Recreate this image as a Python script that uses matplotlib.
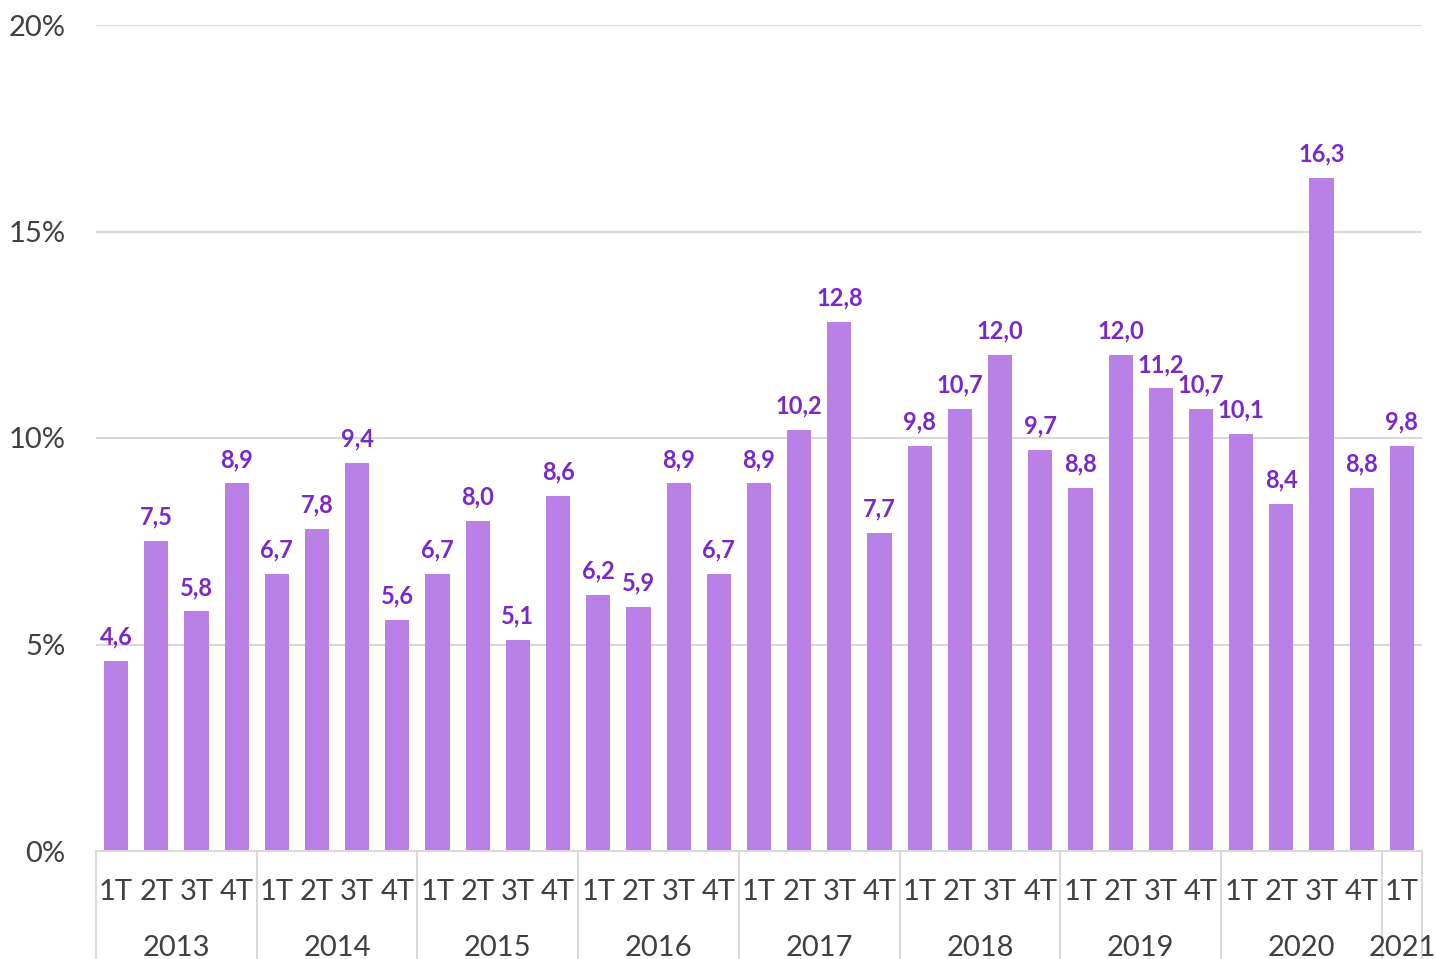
import matplotlib
matplotlib.use("Agg")
import matplotlib.pyplot as plt
from matplotlib.transforms import blended_transform_factory

plt.rcParams['font.family'] = ['Lato', 'DejaVu Sans']

quarters = ["1T", "2T", "3T", "4T"] * 8 + ["1T"]
years = ["2013", "2014", "2015", "2016", "2017", "2018", "2019", "2020", "2021"]
year_sizes = [4, 4, 4, 4, 4, 4, 4, 4, 1]
values = [4.6, 7.5, 5.8, 8.9, 6.7, 7.8, 9.4, 5.6, 6.7, 8.0, 5.1, 8.6,
          6.2, 5.9, 8.9, 6.7, 8.9, 10.2, 12.8, 7.7, 9.8, 10.7, 12.0, 9.7,
          8.8, 12.0, 11.2, 10.7, 10.1, 8.4, 16.3, 8.8, 9.8]
yticks = [0, 5, 10, 15, 20]

W, H = 1436, 959
fig = plt.figure(figsize=(W / 100, H / 100), dpi=100)
ax = fig.add_axes([96 / W, (H - 851) / H, (1422 - 96) / W, (851 - 25) / H])

bar_color = "#B980E6"
lab_color = "#7B28C9"
txt_color = "#404040"
grid_color = "#D9D9D9"

x = list(range(len(values)))
ax.bar(x, values, width=0.6, color=bar_color, zorder=2)
for xi, v in zip(x, values):
    ax.annotate(f"{v:.1f}".replace(".", ","), (xi, v), xytext=(0, 9),
                textcoords="offset points", ha="center", va="bottom",
                fontsize=17, fontweight="bold", color=lab_color, zorder=3)

ax.set_xlim(-0.5, len(values) - 0.5)
ax.set_ylim(0, 20)
ax.set_yticks(yticks)
ax.set_yticklabels([f"{t}%" for t in yticks])
ax.yaxis.grid(True, color=grid_color, lw=1.5, zorder=0)
ax.tick_params(axis="y", length=0, pad=22, labelsize=21, labelcolor=txt_color)
ax.set_xticks(x)
ax.set_xticklabels(quarters)
ax.tick_params(axis="x", length=0, pad=20, labelsize=21, labelcolor=txt_color)
for s in ["top", "right", "left"]:
    ax.spines[s].set_visible(False)
ax.spines["bottom"].set_color(grid_color)
ax.spines["bottom"].set_linewidth(1.5)

trans = blended_transform_factory(ax.transData, ax.transAxes)
bottom_ax = -(959 - 851) / (851 - 25)
start = -0.5
bounds = [start]
for name, n in zip(years, year_sizes):
    center = start + n / 2
    ax.text(center, -(948 - 851) / (851 - 25), name, transform=trans,
            ha="center", va="center", fontsize=21, color=txt_color)
    start += n
    bounds.append(start)
for b in bounds:
    ax.plot([b, b], [0, bottom_ax - 0.01], transform=trans, color=grid_color,
            lw=1.5, clip_on=False)

fig.savefig("out.png", dpi=100)
